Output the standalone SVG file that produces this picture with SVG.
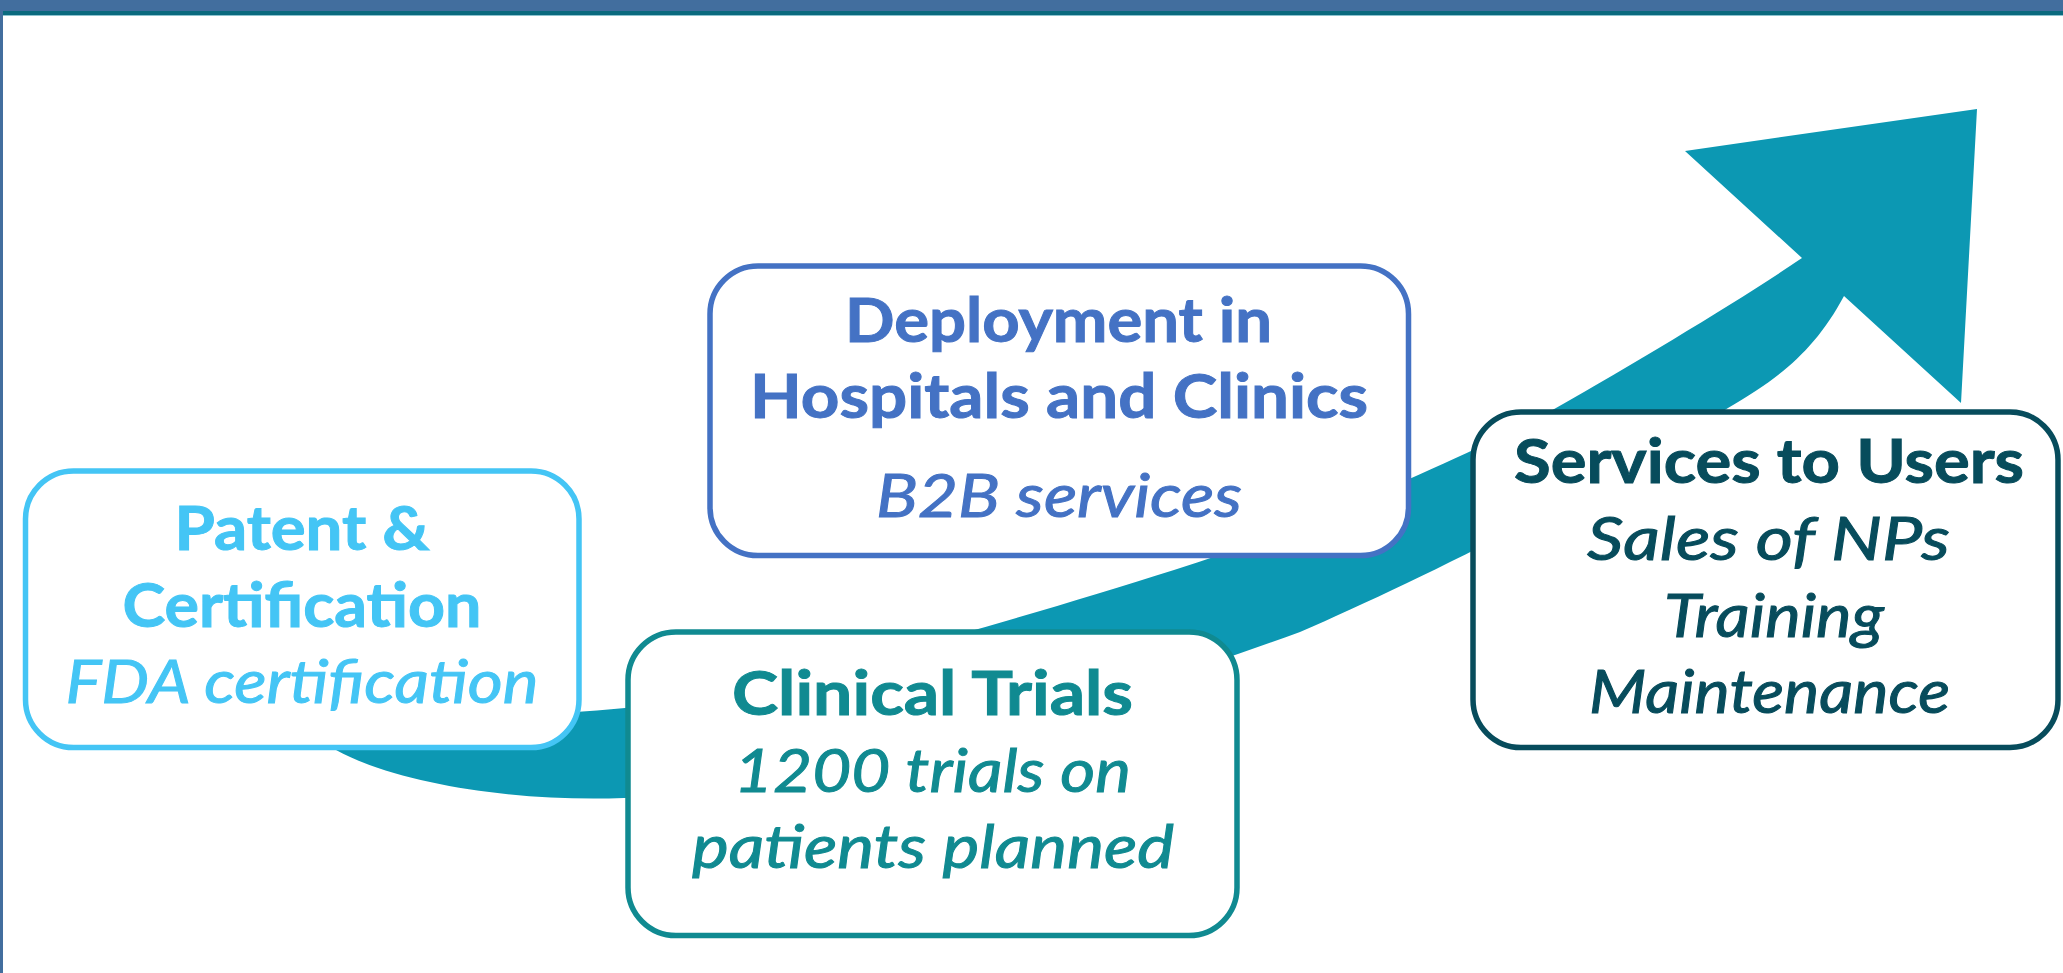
<svg xmlns="http://www.w3.org/2000/svg" width="2063" height="973" viewBox="0 0 2063 973">
  <style>
    .box { fill: #FFFFFF; stroke-width: 5.5; }
    .t { font-family: Lato, "Open Sans", "Liberation Sans", sans-serif; font-weight: 700; font-size: 62px; text-anchor: middle; }
    .s { font-family: Lato, "Open Sans", "Liberation Sans", sans-serif; font-style: italic; font-weight: 400; font-size: 60px; text-anchor: middle; }
    .patent { stroke: #44C5F5; fill: #44C5F5; }
    .deploy { stroke: #4472C4; fill: #4472C4; }
    .clin { stroke: #108A91; fill: #108A91; }
    .serv { stroke: #074C5C; fill: #074C5C; }
    text { stroke: none; }
  </style>
  <rect x="0" y="0" width="2063" height="973" fill="#FFFFFF"/>
  <g id="frame">
    <rect x="0" y="0" width="2063" height="11" fill="#426E9E"/>
    <rect x="0" y="11" width="2063" height="4" fill="#0A6A7E"/>
    <rect x="0" y="15" width="2063" height="1" fill="#8CC3CF"/>
    <rect x="0" y="0" width="3" height="973" fill="#426E9E"/>
  </g>
  <g id="connectors">
    <path d="M 320 722 C 450 718 540 716 625 708 C 760 694 1000 625 1174 570 C 1320 524 1500 440 1556 408 C 1640 360 1740 300 1802 258 L 1685 151 L 1977 109 L 1961 403 L 1844 296 C 1815 350 1780 378 1728 408 C 1600 490 1420 580 1300 632 C 1000 740 760 795 624 798 C 520 802 400 785 336 750 Z" fill="#0C98B3"/>
  </g>
  <g id="node-patent">
    <rect class="box patent" x="25.5" y="471" width="553.5" height="276.5" rx="48" ry="48" style="fill:#FFFFFF"/>
    <text class="t patent" x="302" y="550" textLength="255" lengthAdjust="spacingAndGlyphs">Patent &amp;</text>
    <text class="t patent" x="302" y="627" textLength="359" lengthAdjust="spacingAndGlyphs">Certification</text>
    <text class="s patent" x="302" y="703" textLength="473" lengthAdjust="spacingAndGlyphs">FDA certification</text>
  </g>
  <g id="node-deployment">
    <rect class="box deploy" x="710" y="266" width="698.5" height="289.5" rx="48" ry="48" style="fill:#FFFFFF"/>
    <text class="t deploy" x="1058.5" y="342" textLength="427" lengthAdjust="spacingAndGlyphs">Deployment in</text>
    <text class="t deploy" x="1059" y="418" textLength="618" lengthAdjust="spacingAndGlyphs">Hospitals and Clinics</text>
    <text class="s deploy" x="1059" y="517" textLength="366" lengthAdjust="spacingAndGlyphs">B2B services</text>
  </g>
  <g id="node-clinical">
    <rect class="box clin" x="628" y="632" width="609" height="303.5" rx="48" ry="48" style="fill:#FFFFFF"/>
    <text class="t clin" x="932.5" y="715" textLength="401" lengthAdjust="spacingAndGlyphs">Clinical Trials</text>
    <text class="s clin" x="932.5" y="792" textLength="397" lengthAdjust="spacingAndGlyphs">1200 trials on</text>
    <text class="s clin" x="933" y="868" textLength="482" lengthAdjust="spacingAndGlyphs">patients planned</text>
  </g>
  <g id="node-services">
    <rect class="box serv" x="1473" y="412" width="585" height="335.5" rx="48" ry="48" style="fill:#FFFFFF"/>
    <text class="t serv" x="1769" y="483" textLength="510" lengthAdjust="spacingAndGlyphs">Services to Users</text>
    <text class="s serv" x="1768.5" y="560" textLength="363" lengthAdjust="spacingAndGlyphs">Sales of NPs</text>
    <text class="s serv" x="1774" y="637" textLength="220" lengthAdjust="spacingAndGlyphs">Training</text>
    <text class="s serv" x="1769.5" y="713" textLength="361" lengthAdjust="spacingAndGlyphs">Maintenance</text>
  </g>
</svg>
